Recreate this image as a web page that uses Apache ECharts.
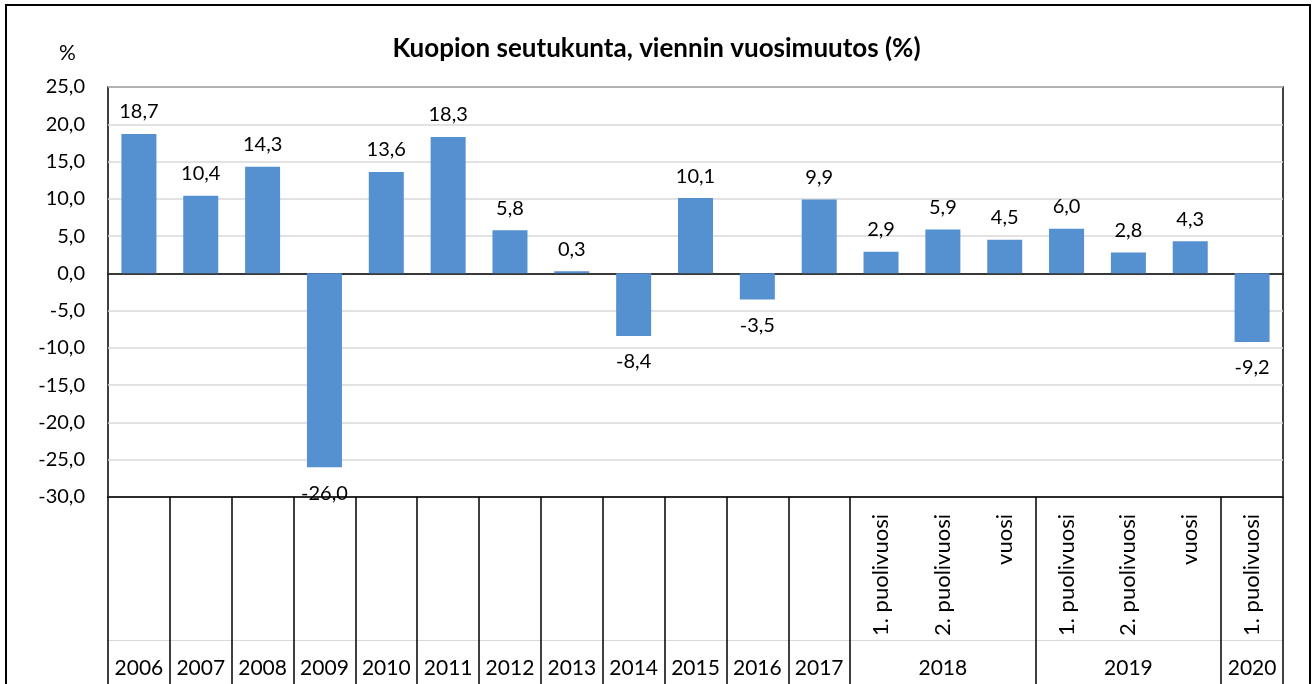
<!DOCTYPE html>
<html>
<head>
<meta charset="utf-8">
<script src="https://cdn.jsdelivr.net/npm/echarts@6/dist/echarts.min.js"></script>
<style>
html,body{margin:0;padding:0;background:#fff;}
#main{width:1313px;height:684px;}
</style>
</head>
<body>
<div id="main"></div>
<script>
// kategoriat ja arvot
var subLabels = ['', '', '', '', '', '', '', '', '', '', '', '',
	'1. puolivuosi', '2. puolivuosi', 'vuosi',
	'1. puolivuosi', '2. puolivuosi', 'vuosi',
	'1. puolivuosi'];
var yearLabels = ['2006', '2007', '2008', '2009', '2010', '2011', '2012', '2013', '2014', '2015', '2016', '2017',
	'', '2018', '', '', '2019', '', '2020'];
var values = [18.7, 10.4, 14.3, -26.0, 13.6, 18.3, 5.8, 0.3, -8.4, 10.1, -3.5, 9.9,
	2.9, 5.9, 4.5, 6.0, 2.8, 4.3, -9.2];
// ryhmien rajat (vasen reuna)
var groupStarts = [0, 1, 2, 3, 4, 5, 6, 7, 8, 9, 10, 11, 12, 15, 18];

var cats = [];
for (var i = 0; i < values.length; i++) {
	cats.push('c' + i);
}

function fmt(v){
	return Number(v).toFixed(1).replace('.', ',');
}

var font = 'Lato, "Open Sans", sans-serif';

var myChart = echarts.init(document.getElementById('main'));
var option = {
	animation: false,
	textStyle: {fontFamily: font},
	title: {
		text: 'Kuopion seutukunta, viennin vuosimuutos (%)',
		left: 'center',
		top: 31,
		textStyle: {fontSize: 26, fontWeight: 'bold', color: '#000', fontFamily: font}
	},
	graphic: [
		{type: 'rect', shape: {x: 6, y: 5, width: 1304, height: 720}, style: {fill: 'none', stroke: '#000', lineWidth: 2}, silent: true},
		{type: 'text', left: 59, top: 43, style: {text: '%', fontSize: 21, fill: '#000', fontFamily: font}}
	],
	grid: {
		left: 108, right: 30, top: 87, bottom: 187,
		show: true, borderColor: '#000', borderWidth: 1.5
	},
	xAxis: [
		{
			type: 'category',
			data: cats,
			position: 'bottom',
			axisLine: {onZero: true, lineStyle: {color: '#000', width: 1.5}},
			axisTick: {show: false},
			axisLabel: {show: false}
		},
		{
			type: 'category',
			data: subLabels,
			position: 'bottom',
			axisLine: {onZero: false, lineStyle: {color: '#000', width: 1.5}},
			axisTick: {
				show: true, length: 190, lineStyle: {color: '#000', width: 1.5},
				interval: function(index){ return groupStarts.indexOf(index) >= 0; }
			},
			axisLabel: {interval: 0, rotate: 90, margin: 17, fontSize: 22, color: '#000', fontFamily: font}
		},
		{
			type: 'category',
			data: yearLabels,
			position: 'bottom',
			offset: 143,
			axisLine: {onZero: false, lineStyle: {color: '#d9d9d9', width: 1}},
			axisTick: {show: false},
			axisLabel: {interval: 0, margin: 18, fontSize: 21, color: '#000', fontFamily: font}
		}
	],
	yAxis: {
		type: 'value',
		min: -30, max: 25, interval: 5,
		axisLine: {show: false},
		axisTick: {show: false},
		splitLine: {lineStyle: {color: '#d9d9d9', width: 1.5}},
		axisLabel: {margin: 23, fontSize: 20, color: '#000', fontFamily: font, formatter: fmt}
	},
	series: [
		{
			type: 'bar',
			xAxisIndex: 0,
			barWidth: 35,
			itemStyle: {color: '#5590D0'},
			data: values.map(function(v){
				return {
					value: v,
					label: {position: v < 0 ? 'bottom' : 'top', distance: v < 0 ? 16 : 12}
				};
			}),
			label: {
				show: true, fontSize: 20, color: '#000', fontFamily: font,
				formatter: function(p){ return fmt(p.value); }
			}
		}
	]
};
myChart.setOption(option);
</script>
</body>
</html>
